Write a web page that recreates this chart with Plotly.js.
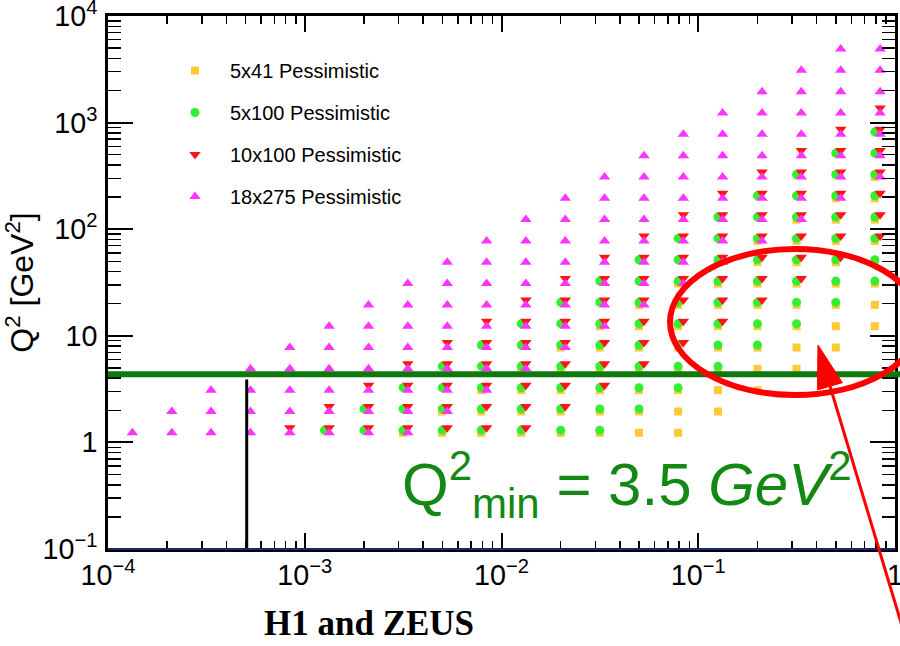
<!DOCTYPE html>
<html>
<head>
<meta charset="utf-8">
<script src="https://cdn.plot.ly/plotly-3.0.1.min.js"></script>
<style>html,body{margin:0;padding:0;background:#fff;}#chart{width:900px;height:646px;}</style>
</head>
<body>
<div id="chart"></div>
<script>
// x bin centres (Bjorken x) for the 5 GeV electron beams and for the 10/18 GeV beams
const xBinsLowE = [1.26e-4, 2.0e-4, 3.16e-4, 5.0e-4, 7.9e-4, 1.26e-3, 2.0e-3, 3.16e-3, 5.0e-3, 7.9e-3,
                   0.0126, 0.020, 0.0316, 0.050, 0.079, 0.126, 0.20, 0.316, 0.50, 0.79];
const xBinsHighE = [1.33e-4, 2.11e-4, 3.34e-4, 5.3e-4, 8.4e-4, 1.33e-3, 2.11e-3, 3.34e-3, 5.3e-3, 8.4e-3,
                    0.0133, 0.0211, 0.0334, 0.053, 0.084, 0.133, 0.211, 0.334, 0.53, 0.84];
// Q^2 bin centres (GeV^2) as plotted for each beam configuration
const q2Bins5x41   = [1.23, 1.95, 3.09, 4.9, 7.76, 12.3, 19.5, 30.9, 49, 77.6, 123, 195, 309, 490, 776, 1230, 1950, 3090, 4900];
const q2Bins5x100  = [1.30, 2.06, 3.26, 5.17, 8.19, 13.0, 20.6, 32.6, 51.7, 81.9, 130, 206, 326, 517, 819, 1300, 2060, 3260, 5170];
const q2Bins10x100 = [1.37, 2.17, 3.44, 5.46, 8.64, 13.7, 21.7, 34.4, 54.6, 86.4, 137, 217, 344, 546, 864, 1370, 2170, 3440, 5460];
const q2Bins18x275 = [1.23, 1.95, 3.09, 4.9, 7.76, 12.3, 19.5, 30.9, 49, 77.6, 123, 195, 309, 490, 776, 1230, 1950, 3090, 4900];

// For every x column: first and last Q^2 row that is filled (null = empty column)
const s5x41Lo   = [null,null,null,null,null,null,null,0,0,0,0,0,0,0,0,1,2,3,4,5];
const s5x41Hi   = [null,null,null,null,null,null,null,0,1,2,3,4,5,6,7,8,9,10,11,12];
const s5x100Lo  = [null,null,null,null,null,0,0,0,0,0,0,0,0,1,2,3,4,5,6,7];
const s5x100Hi  = [null,null,null,null,null,0,1,2,3,4,5,6,7,8,9,10,11,12,13,14];
const s10x100Lo = [null,null,null,null,0,0,0,0,0,0,0,1,2,3,4,5,6,7,8,9];
const s10x100Hi = [null,null,null,null,0,1,2,3,4,5,6,7,8,9,10,11,12,13,14,15];
const s18x275Lo = [0,0,0,0,0,0,0,0,1,2,3,4,5,6,7,8,9,10,11,12];
const s18x275Hi = [0,1,2,3,4,5,6,7,8,9,10,11,12,13,14,15,16,17,18,18];

const seriesNames = ['5x41 Pessimistic', '5x100 Pessimistic', '10x100 Pessimistic', '18x275 Pessimistic'];

// reference lines
const q2MinLine = 4.35;      // horizontal green line
const h1zeusX = 5.07e-4;     // vertical black line
const h1zeusTop = 3.9;

function expand(xs, qs, lo, hi) {
  const X = [], Y = [];
  for (let k = 0; k < xs.length; k++) {
    if (lo[k] === null) continue;
    for (let j = lo[k]; j <= hi[k]; j++) { X.push(xs[k]); Y.push(qs[j]); }
  }
  return {X, Y};
}

const defs = [
  {d: expand(xBinsLowE, q2Bins5x41, s5x41Lo, s5x41Hi), sym: 'square', size: 8, color: '#ffc933'},
  {d: expand(xBinsLowE, q2Bins5x100, s5x100Lo, s5x100Hi), sym: 'circle', size: 9, color: '#33ee33'},
  {d: expand(xBinsHighE, q2Bins10x100, s10x100Lo, s10x100Hi), sym: 'triangle-down', size: 10, color: '#ff1414'},
  {d: expand(xBinsHighE, q2Bins18x275, s18x275Lo, s18x275Hi), sym: 'triangle-up', size: 10, color: '#ff33ff'}
];

const traces = defs.map((o, i) => ({
  type: 'scatter', mode: 'markers', name: seriesNames[i], legendgroup: 'g' + i,
  x: o.d.X, y: o.d.Y,
  marker: {symbol: o.sym, size: o.size, color: o.color, line: {width: 0}},
  hoverinfo: 'x+y+name'
}));

const W = 900, H = 646, L = 108, R = 5, T = 16, B = 97;
const pw = W - L - R, ph = H - T - B;
const px = v => (v - L) / pw;
const py = v => (H - B - v) / ph;

const axisCommon = {
  type: 'log', dtick: 1, exponentformat: 'power', showgrid: false, zeroline: false,
  showline: true, linecolor: '#000', linewidth: 3, mirror: 'ticks',
  ticks: 'inside', tickcolor: '#000', tickwidth: 2, ticklabeloverflow: 'allow',
  tickfont: {family: 'Liberation Sans, Arial, sans-serif', size: 23, color: '#000'}
};

const layout = {
  width: W, height: H,
  margin: {l: L, r: R, t: T, b: B, pad: 0},
  paper_bgcolor: '#fff', plot_bgcolor: '#fff',
  showlegend: true,
  legend: {
    x: px(160), y: py(51), xanchor: 'left', yanchor: 'top',
    bgcolor: 'rgba(0,0,0,0)', borderwidth: 0, itemwidth: 60,
    traceorder: 'grouped', tracegroupgap: 13,
    font: {family: 'Liberation Sans, Arial, sans-serif', size: 20, color: '#000'}
  },
  xaxis: Object.assign({}, axisCommon, {
    range: [-4, 0], ticklen: 16,
    minor: {ticks: 'inside', ticklen: 8, tickwidth: 1.5, tickcolor: '#000', dtick: 'D1'}
  }),
  yaxis: Object.assign({}, axisCommon, {
    range: [-1, 4], ticklen: 25, ticklabelstandoff: 3,
    minor: {ticks: 'inside', ticklen: 13, tickwidth: 1.5, tickcolor: '#000', dtick: 'D1'},
    title: {text: 'Q<sup>2</sup> [GeV<sup>2</sup>]', standoff: 0,
            font: {family: 'Liberation Sans, Arial, sans-serif', size: 32, color: '#000'}}
  }),
  shapes: [
    {type: 'line', xref: 'paper', yref: 'y', x0: 0, x1: px(900), y0: q2MinLine, y1: q2MinLine,
     line: {color: '#0e7a0e', width: 6}, layer: 'above'},
    {type: 'line', xref: 'x', yref: 'y', x0: h1zeusX, x1: h1zeusX, y0: 0.1, y1: h1zeusTop,
     line: {color: '#000', width: 3}, layer: 'above'},
    {type: 'line', xref: 'paper', yref: 'paper', x0: 0, x1: 1, y0: 0, y1: 0,
     line: {color: '#1c2570', width: 2}, layer: 'above'},
    {type: 'circle', xref: 'paper', yref: 'paper', x0: px(670), x1: px(920), y0: py(395), y1: py(249),
     line: {color: '#ff0000', width: 6}, layer: 'above'},
    {type: 'line', xref: 'paper', yref: 'paper', x0: px(908), y0: py(646), x1: px(830), y1: py(386),
     line: {color: '#ff0000', width: 3}, layer: 'above'},
    {type: 'path', xref: 'paper', yref: 'paper',
     path: 'M ' + px(818) + ' ' + py(345) + ' L ' + px(842.4) + ' ' + py(382.7) + ' L ' + px(817.4) + ' ' + py(389.9) + ' Z',
     fillcolor: '#ff0000', line: {color: '#ff0000', width: 1}, layer: 'above'}
  ],
  annotations: [
    {xref: 'paper', yref: 'paper', x: px(400), y: py(485), xanchor: 'left', yanchor: 'middle',
     text: 'Q<sup>2</sup><sub>min</sub> = 3.5 <i>GeV</i><sup>2</sup>', showarrow: false,
     font: {family: 'Liberation Sans, Arial, sans-serif', size: 60, color: '#138813'}},
    {xref: 'paper', yref: 'paper', x: px(369), y: py(645), xanchor: 'center', yanchor: 'bottom',
     text: '<b>H1 and ZEUS</b>', showarrow: false,
     font: {family: 'Liberation Serif, Times New Roman, serif', size: 35, color: '#000'}}
  ]
};

Plotly.newPlot('chart', traces, layout, {displayModeBar: false, staticPlot: true});
</script>
</body>
</html>
